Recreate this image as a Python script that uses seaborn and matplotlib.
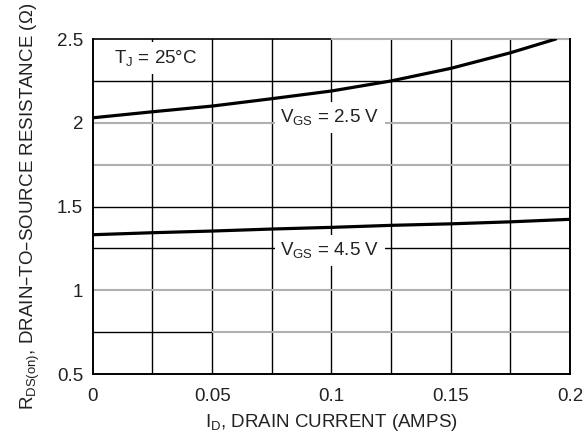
import matplotlib
matplotlib.use("Agg")
import matplotlib.pyplot as plt
import seaborn as sns
import pandas as pd

# Data
drain_current = [0.0, 0.025, 0.05, 0.075, 0.1, 0.125, 0.15, 0.175, 0.194]
rds_vgs25 = [2.03, 2.066, 2.10, 2.144, 2.19, 2.25, 2.325, 2.418, 2.50]
drain_current_45 = [0.0, 0.025, 0.05, 0.075, 0.1, 0.125, 0.15, 0.175, 0.2]
rds_vgs45 = [1.332, 1.344, 1.354, 1.366, 1.376, 1.388, 1.397, 1.409, 1.424]
x_ticks = [0, 0.05, 0.1, 0.15, 0.2]
x_tick_labels = ["0", "0.05", "0.1", "0.15", "0.2"]
y_ticks = [0.5, 1.0, 1.5, 2.0, 2.5]
y_tick_labels = ["0.5", "1", "1.5", "2", "2.5"]

sns.set_style("white")
plt.rcParams['font.family'] = ['Liberation Sans', 'DejaVu Sans']
plt.rcParams['mathtext.default'] = 'regular'

df = pd.DataFrame({
    "I": drain_current + drain_current_45,
    "R": rds_vgs25 + rds_vgs45,
    "series": ["2.5"] * len(drain_current) + ["4.5"] * len(drain_current_45),
})

fig = plt.figure(figsize=(5.84, 4.34), dpi=100)
ax = fig.add_axes([0.159, 0.138, 0.817, 0.772])

txt = "#222222"
gray = "#b0b0b0"

# grid lines
for xv in [0.025, 0.05, 0.075, 0.1, 0.125, 0.15, 0.175]:
    ax.axvline(xv, color="black", lw=1.0, zorder=1)
for yv, col in [(2.25, "black"), (2.0, gray), (1.75, gray), (1.5, "black"),
                (1.25, "black"), (1.0, gray)]:
    ax.axhline(yv, color=col, lw=1.0 if col == "black" else 1.5, zorder=1)
ax.hlines(0.75, 0, 0.05, color="black", lw=1.0, zorder=1)
ax.hlines(0.75, 0.05, 0.2, color=gray, lw=1.5, zorder=1)
ax.hlines(2.5, 0.1, 0.2, color=gray, lw=1.5, zorder=2, clip_on=False)
ax.hlines(2.5, 0, 0.1, color="black", lw=1.2, zorder=2, clip_on=False)

sns.lineplot(data=df, x="I", y="R", hue="series", palette=["black", "black"],
             lw=2.3, legend=False, ax=ax, zorder=3)

ax.set_xlim(0, 0.2)
ax.set_ylim(0.5, 2.5)
ax.set_xticks(x_ticks)
ax.set_xticklabels(x_tick_labels)
ax.set_yticks(y_ticks)
ax.set_yticklabels(y_tick_labels)
ax.tick_params(axis="x", length=0, labelsize=13.5, colors=txt, pad=10)
ax.tick_params(axis="y", length=0, labelsize=13.5, colors=txt, pad=7)

for s in ["left", "bottom", "right"]:
    ax.spines[s].set_color("black")
    ax.spines[s].set_linewidth(1.4)
ax.spines["top"].set_visible(False)

ax.set_xlabel("I$_{D}$, DRAIN CURRENT (AMPS)", fontsize=13.5, color=txt, labelpad=5)
ax.set_ylabel("R$_{DS(on)}$, DRAIN\u2013TO\u2013SOURCE RESISTANCE (\u03a9)",
              fontsize=13.5, color=txt, labelpad=11)

box = dict(boxstyle="square,pad=0.3", fc="white", ec="none")
ax.text(0.009, 2.387, "T$_J$ = 25\u00b0C", fontsize=13.5, color=txt,
        ha="left", va="center", bbox=box, zorder=4)
ax.text(0.0994, 2.034, "V$_{GS}$ = 2.5 V", fontsize=13.5, color=txt,
        ha="center", va="center", bbox=box, zorder=4)
ax.text(0.0994, 1.24, "V$_{GS}$ = 4.5 V", fontsize=13.5, color=txt,
        ha="center", va="center", bbox=box, zorder=4)

fig.savefig("out.png", dpi=100)
